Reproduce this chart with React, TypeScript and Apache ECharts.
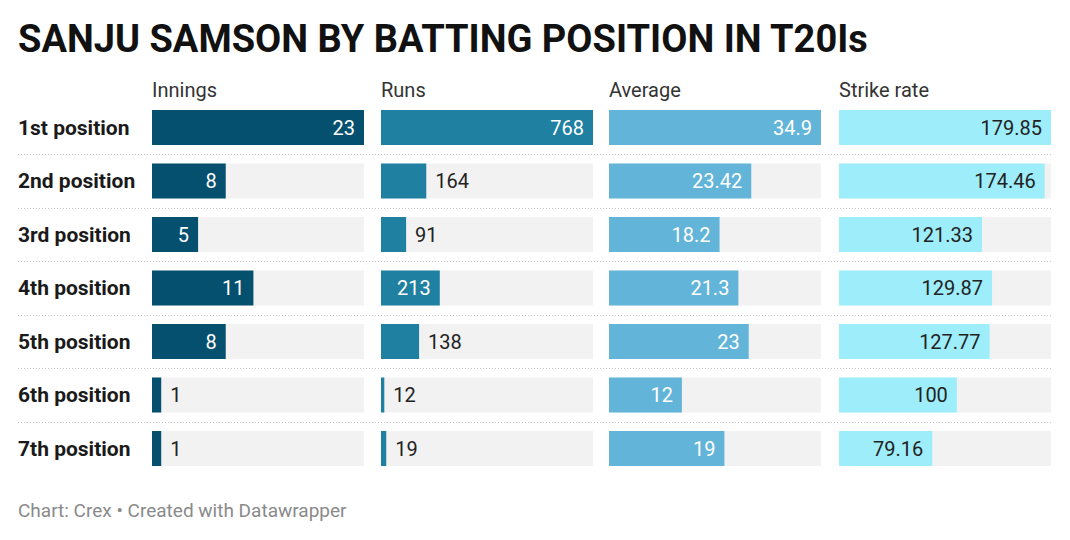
import React, { useEffect, useRef } from "react";
import * as echarts from "echarts";

// Batting positions and the four stat columns
const positions = [
  "1st position",
  "2nd position",
  "3rd position",
  "4th position",
  "5th position",
  "6th position",
  "7th position",
];
const headers = ["Innings", "Runs", "Average", "Strike rate"];
const innings = [23, 8, 5, 11, 8, 1, 1];
const runs = [768, 164, 91, 213, 138, 12, 19];
const average = [34.9, 23.42, 18.2, 21.3, 23, 12, 19];
const strikeRate = [179.85, 174.46, 121.33, 129.87, 127.77, 100, 79.16];

const columns = [innings, runs, average, strikeRate];
const colors = ["#05506e", "#1f80a1", "#62b4d9", "#9eedfb"];
const insideLabelColors = ["#ffffff", "#ffffff", "#ffffff", "#222222"];

const FONT = "Roboto, 'Noto Sans', sans-serif";
const COL_LEFT = [152, 381, 609, 839];
const COL_WIDTH = 212;
const GRID_TOP = 100.75;
const GRID_HEIGHT = 374.5;

function buildOption() {
  const grids: any[] = [];
  const xAxes: any[] = [];
  const yAxes: any[] = [];
  const series: any[] = [];

  columns.forEach((values, ci) => {
    const max = Math.max(...values);
    grids.push({ left: COL_LEFT[ci], width: COL_WIDTH, top: GRID_TOP, height: GRID_HEIGHT });
    xAxes.push({ type: "value", gridIndex: ci, min: 0, max, show: false });
    yAxes.push({
      type: "category",
      gridIndex: ci,
      data: positions,
      inverse: true,
      axisLine: { show: false },
      axisTick: { show: false },
      splitLine: { show: false },
      axisLabel:
        ci === 0
          ? {
              show: true,
              align: "left",
              margin: COL_LEFT[0] - 18,
              fontFamily: FONT,
              fontWeight: "bold",
              fontSize: 21,
              color: "#1a1a1a",
            }
          : { show: false },
    });
    series.push({
      type: "bar",
      xAxisIndex: ci,
      yAxisIndex: ci,
      barWidth: 35,
      showBackground: true,
      backgroundStyle: { color: "#f2f2f2" },
      itemStyle: { color: colors[ci] },
      data: values.map((v) => {
        const barPx = (v / max) * COL_WIDTH;
        const textPx = String(v).length * 11 + 18;
        const inside = barPx >= textPx;
        return {
          value: v,
          label: {
            show: true,
            position: inside ? "insideRight" : "right",
            distance: 9,
            color: inside ? insideLabelColors[ci] : "#222222",
            fontFamily: FONT,
            fontSize: 20,
          },
        };
      }),
    });
  });

  // Full-width grid carrying the dotted row separators
  grids.push({ left: 18, right: 19, top: GRID_TOP, height: GRID_HEIGHT });
  xAxes.push({ type: "value", gridIndex: 4, min: 0, max: 1, show: false });
  yAxes.push({
    type: "value",
    gridIndex: 4,
    min: 0,
    max: positions.length,
    interval: 1,
    axisLine: { show: false },
    axisTick: { show: false },
    axisLabel: { show: false },
    splitLine: {
      show: true,
      showMinLine: false,
      showMaxLine: false,
      lineStyle: { color: "#c4c4c4", width: 1, type: [1, 2] },
    },
  });

  return {
    animation: false,
    backgroundColor: "#ffffff",
    grid: grids,
    xAxis: xAxes,
    yAxis: yAxes,
    series,
    graphic: [
      {
        type: "text",
        left: 18,
        top: 20,
        style: {
          text: "SANJU SAMSON BY BATTING POSITION IN T20Is",
          fontFamily: FONT,
          fontWeight: "bold",
          fontSize: 38,
          fill: "#111111",
        },
      },
      ...headers.map((h, i) => ({
        type: "text",
        left: COL_LEFT[i],
        top: 80,
        style: { text: h, fontFamily: FONT, fontSize: 20, fill: "#333333" },
      })),
      {
        type: "text",
        left: 18,
        top: 501,
        style: {
          text: "Chart: Crex • Created with Datawrapper",
          fontFamily: FONT,
          fontSize: 19,
          fill: "#8a8a8a",
        },
      },
    ],
  };
}

export default function App() {
  const ref = useRef<HTMLDivElement>(null);
  useEffect(() => {
    document.body.style.margin = "0";
    const chart = echarts.init(ref.current!, undefined, { renderer: "svg" });
    chart.setOption(buildOption());
    return () => chart.dispose();
  }, []);
  return <div ref={ref} style={{ width: 1070, height: 540 }} />;
}
